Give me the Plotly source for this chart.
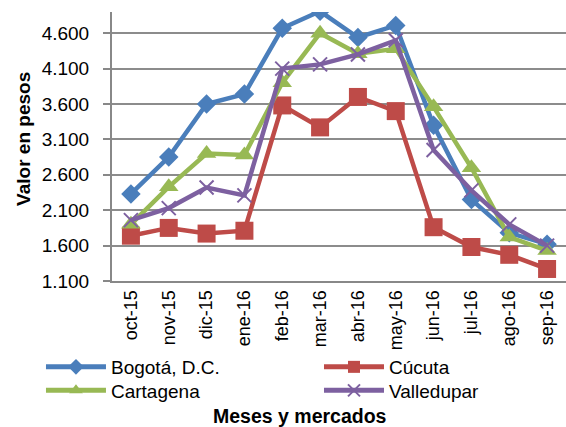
import plotly.graph_objects as go

meses = ["oct-15", "nov-15", "dic-15", "ene-16", "feb-16", "mar-16",
         "abr-16", "may-16", "jun-16", "jul-16", "ago-16", "sep-16"]
bogota = [2330, 2850, 3600, 3740, 4670, 4910, 4540, 4710, 3300, 2250, 1780, 1620]
cucuta = [1740, 1850, 1770, 1810, 3580, 3270, 3700, 3500, 1860, 1580, 1470, 1270]
cartagena = [1900, 2430, 2900, 2880, 3900, 4600, 4310, 4380, 3560, 2700, 1720, 1530]
valledupar = [1960, 2130, 2420, 2310, 4100, 4160, 4300, 4500, 2950, 2380, 1900, 1600]
y_ticks = [1100, 1600, 2100, 2600, 3100, 3600, 4100, 4600]
y_tick_labels = ["1.100", "1.600", "2.100", "2.600", "3.100", "3.600", "4.100", "4.600"]

FONT = "Liberation Sans, Arial, sans-serif"

fig = go.Figure()
series = [
    ("Bogotá, D.C.", bogota, "#4A7EBB", "diamond", 15, None, "legend"),
    ("Cúcuta", cucuta, "#BE4B48", "square", 18, None, "legend2"),
    ("Cartagena", cartagena, "#98B954", "triangle-up", 17, None, "legend3"),
    ("Valledupar", valledupar, "#7D60A0", "x-thin", 14, 2, "legend4"),
]
for name, vals, color, sym, size, lw, lg in series:
    marker = dict(symbol=sym, size=size, color=color)
    if lw:
        marker["line"] = dict(color=color, width=lw)
    fig.add_trace(go.Scatter(
        x=meses, y=vals, name=name, mode="lines+markers",
        line=dict(color=color, width=4.5), marker=marker, legend=lg,
    ))

leg_common = dict(
    orientation="v", xref="container", yref="container",
    xanchor="left", yanchor="middle",
    font=dict(family=FONT, size=19, color="#000"),
    itemwidth=60, tracegroupgap=0, itemsizing="constant",
    bgcolor="rgba(0,0,0,0)", borderwidth=0,
)
x_left, x_right = 0.0724, 0.5636
y_row1, y_row2 = 0.1405, 0.0855

fig.update_layout(
    width=566, height=427,
    margin=dict(l=112, r=0, t=12, b=146, autoexpand=False),
    paper_bgcolor="white", plot_bgcolor="white",
    font=dict(family=FONT, size=19, color="#000"),
    showlegend=True,
    legend=dict(leg_common, x=x_left, y=y_row1),
    legend2=dict(leg_common, x=x_right, y=y_row1),
    legend3=dict(leg_common, x=x_left, y=y_row2),
    legend4=dict(leg_common, x=x_right, y=y_row2),
    xaxis=dict(
        type="category", tickangle=-90, showgrid=False,
        showline=True, linecolor="#888", linewidth=2,
        ticks="", tickfont=dict(size=18), automargin=False,
        range=[-0.5, 11.5],
    ),
    yaxis=dict(
        range=[1100, 4900], tickvals=y_ticks, ticktext=y_tick_labels,
        showgrid=True, gridcolor="#8c8c8c", gridwidth=2,
        showline=True, linecolor="#888", linewidth=2,
        zeroline=False, ticks="outside", ticklen=7, tickcolor="#888", tickwidth=2,
        ticklabelstandoff=10,
        tickfont=dict(size=19), automargin=False,
    ),
)
fig.add_annotation(text="<b>Valor en pesos</b>", xref="paper", x=-0.194,
                   yref="paper", y=0.528, textangle=-90, showarrow=False,
                   xanchor="center", yanchor="middle", font=dict(size=19))
fig.add_annotation(text="<b>Meses y mercados</b>", xref="paper", x=0.414,
                   yref="paper", y=-0.503, yanchor="middle", showarrow=False,
                   font=dict(size=19.5))

fig.write_html("out.html", config={"displayModeBar": False},
               post_script="document.body.style.margin='0px';")
